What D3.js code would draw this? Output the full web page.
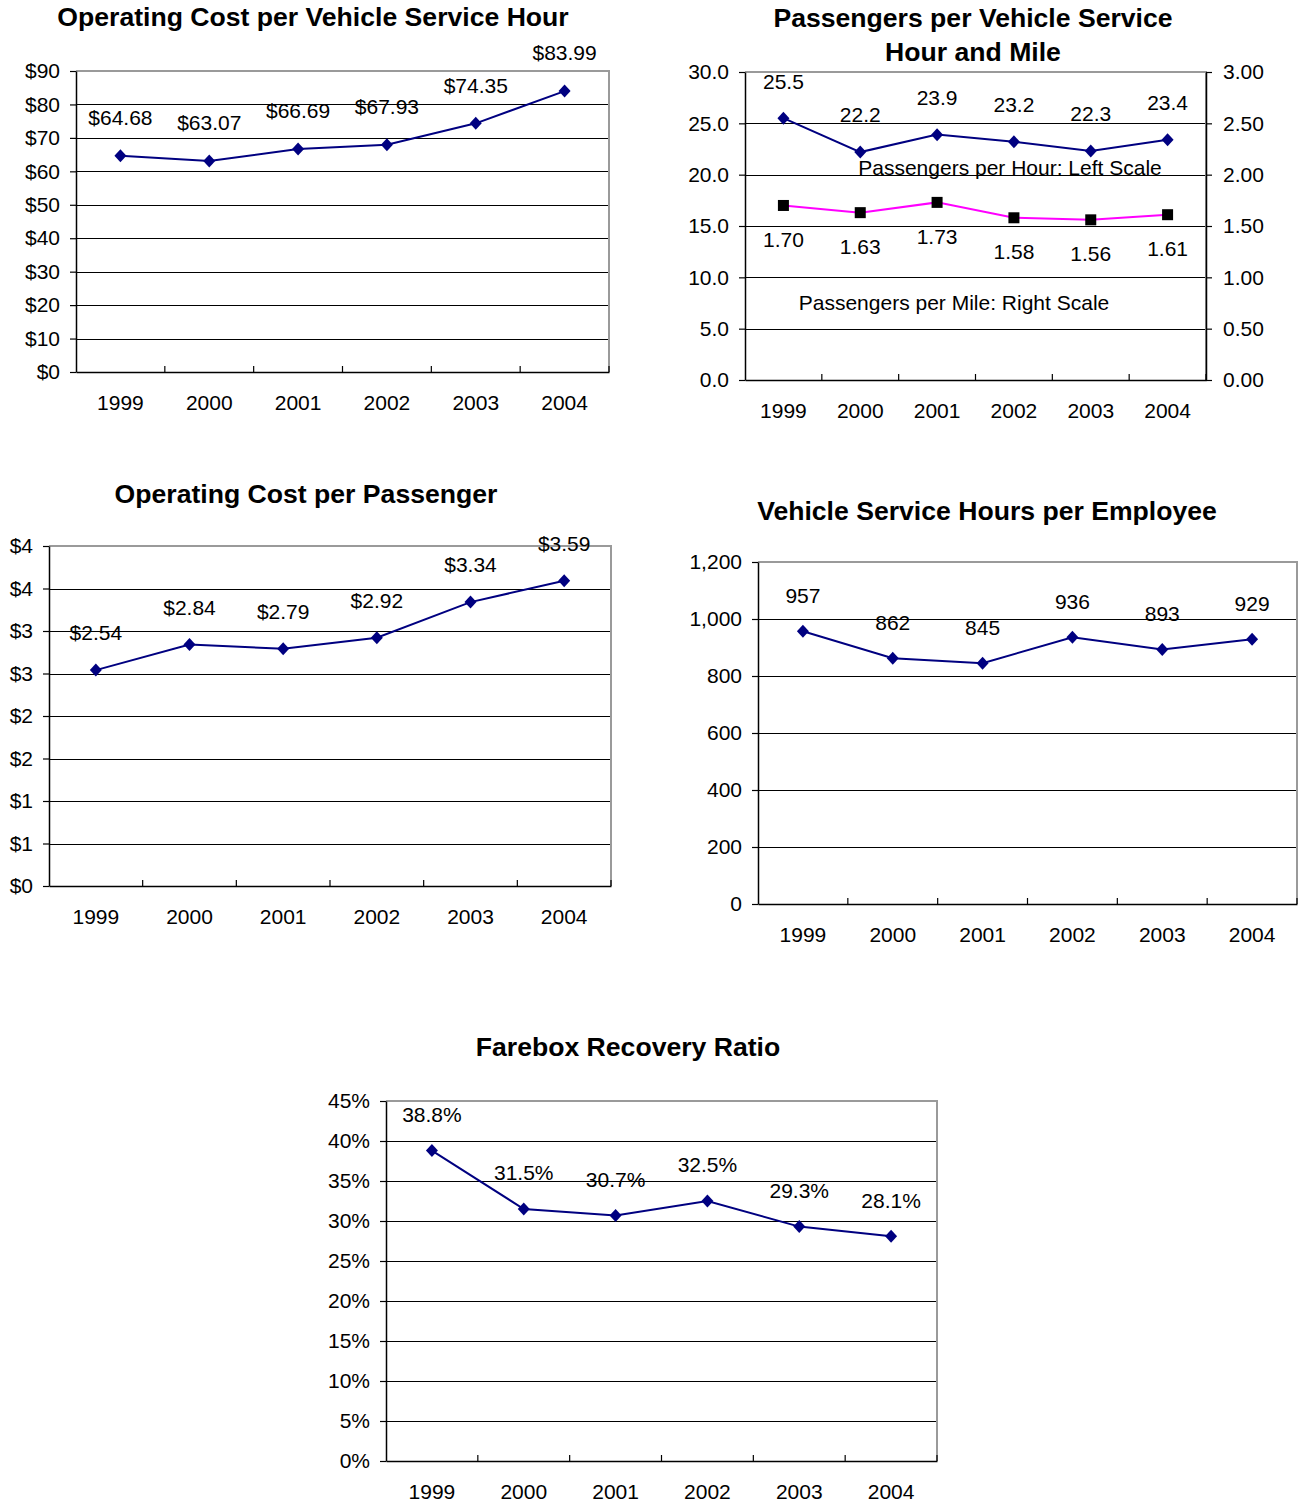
<!DOCTYPE html>
<html>
<head>
<meta charset="utf-8">
<script src="https://cdn.jsdelivr.net/npm/d3@7"></script>
<style>
  html, body { margin: 0; padding: 0; background: #fff; }
  svg { display: block; font-family: "Liberation Sans", Arial, sans-serif; }
  .title { font-weight: bold; font-size: 26.6px; fill: #000; }
  .tick text, .lbl { font-size: 21px; fill: #000; }
</style>
</head>
<body>
<svg id="chart" width="1301" height="1502"></svg>
<script>
// ---- values ----
const years = ["1999", "2000", "2001", "2002", "2003", "2004"];

const costPerHour       = [64.68, 63.07, 66.69, 67.93, 74.35, 83.99];
const passengersPerHour = [25.5, 22.2, 23.9, 23.2, 22.3, 23.4];
const passengersPerMile = [1.70, 1.63, 1.73, 1.58, 1.56, 1.61];
const costPerPassenger  = [2.54, 2.84, 2.79, 2.92, 3.34, 3.59];
const hoursPerEmployee  = [957, 862, 845, 936, 893, 929];
const fareboxRatio      = [38.8, 31.5, 30.7, 32.5, 29.3, 28.1];

const costHourTicks = [0, 10, 20, 30, 40, 50, 60, 70, 80, 90];
const paxHourTicks  = [0, 5, 10, 15, 20, 25, 30];
const paxMileTicks  = [0, 0.5, 1, 1.5, 2, 2.5, 3];
const costPaxTicks  = [0, 0.5, 1, 1.5, 2, 2.5, 3, 3.5, 4];
const hoursTicks    = [0, 200, 400, 600, 800, 1000, 1200];
const fareboxTicks  = [0, 5, 10, 15, 20, 25, 30, 35, 40, 45];

const NAVY = "#000080";
const MAGENTA = "#ff00ff";
const BORDER = "#9a9a9a";

const svg = d3.select("#chart");

// diamond marker shape
function diamond(cx, cy) {
  return `M${cx},${cy - 6.5}L${cx + 6},${cy}L${cx},${cy + 6.5}L${cx - 6},${cy}Z`;
}

function title(lines, cx, cy) {
  lines.forEach((t, i) => {
    svg.append("text").attr("class", "title")
      .attr("x", cx).attr("y", cy + i * 34)
      .attr("dy", "0.35em").attr("text-anchor", "middle")
      .text(t);
  });
}

// One line panel: plot box, value gridlines, category axis and series
function panel(cfg) {
  const g = svg.append("g");
  const x = d3.scaleBand().domain(years).range([cfg.left, cfg.right]).padding(0);
  const y = d3.scaleLinear().domain(cfg.domain).range([cfg.bottom, cfg.top]);
  const cx = d => x(d) + x.bandwidth() / 2;

  // gridlines (top edge is the grey plot border)
  g.selectAll("line.grid")
    .data(cfg.ticks.filter(t => t !== cfg.domain[1] && t !== cfg.domain[0]))
    .join("line")
    .attr("x1", cfg.left).attr("x2", cfg.right)
    .attr("y1", d => Math.round(y(d)) + 0.5).attr("y2", d => Math.round(y(d)) + 0.5)
    .attr("stroke", "#000").attr("stroke-width", 1);

  // plot border: top and right
  g.append("path")
    .attr("d", `M${cfg.left},${cfg.top}H${cfg.right}V${cfg.bottom}`)
    .attr("fill", "none").attr("stroke", BORDER).attr("stroke-width", 2);

  // left value axis
  const ya = g.append("g").attr("transform", `translate(${cfg.left},0)`)
    .call(d3.axisLeft(y).tickValues(cfg.ticks).tickFormat(cfg.fmt)
      .tickSize(6).tickSizeOuter(0).tickPadding(10));
  ya.select(".domain").attr("stroke", "#000").attr("stroke-width", 1.5);
  ya.selectAll(".tick line").attr("stroke", "#000").attr("stroke-width", 1.2);
  ya.selectAll(".tick text").attr("font-size", 21).attr("font-family", null);

  // optional right value axis
  let y2 = null;
  if (cfg.right2) {
    y2 = d3.scaleLinear().domain(cfg.right2.domain).range([cfg.bottom, cfg.top]);
    const ra = g.append("g").attr("transform", `translate(${cfg.right},0)`)
      .call(d3.axisRight(y2).tickValues(cfg.right2.ticks).tickFormat(cfg.right2.fmt)
        .tickSize(6).tickSizeOuter(0).tickPadding(11));
    ra.select(".domain").attr("stroke", "#000").attr("stroke-width", 1.5);
    ra.selectAll(".tick line").attr("stroke", "#000").attr("stroke-width", 1.2);
    ra.selectAll(".tick text").attr("font-size", 21).attr("font-family", null);
  }

  // category axis
  const xa = g.append("g").attr("transform", `translate(0,${cfg.bottom})`)
    .call(d3.axisBottom(x).tickSize(0).tickPadding(23).tickSizeOuter(0));
  xa.select(".domain").attr("stroke", "#000").attr("stroke-width", 1.5);
  xa.selectAll(".tick text").attr("font-size", 21).attr("font-family", null);

  // category separators, pointing into the plot
  const seps = years.slice(1).map(d => x(d)).concat([cfg.right]);
  g.selectAll("line.sep").data(seps).join("line")
    .attr("x1", d => d).attr("x2", d => d)
    .attr("y1", cfg.bottom).attr("y2", cfg.bottom - 6)
    .attr("stroke", "#000").attr("stroke-width", 1.2);

  // series
  cfg.series.forEach(s => {
    const sy = s.axis === 2 ? y2 : y;
    const pts = years.map((yr, i) => [cx(yr), sy(s.values[i])]);
    g.append("path")
      .attr("d", d3.line()(pts))
      .attr("fill", "none").attr("stroke", s.color).attr("stroke-width", 2);
    if (s.marker === "square") {
      g.selectAll(null).data(pts).join("rect")
        .attr("x", d => d[0] - 5.5).attr("y", d => d[1] - 5.5)
        .attr("width", 11).attr("height", 11).attr("fill", "#000");
    } else {
      g.selectAll(null).data(pts).join("path")
        .attr("d", d => diamond(d[0], d[1])).attr("fill", NAVY);
    }
    g.selectAll(null).data(pts).join("text")
      .attr("class", "lbl")
      .attr("x", d => d[0]).attr("y", d => d[1] + s.labelOffset)
      .attr("dy", "0.35em").attr("text-anchor", "middle")
      .text((d, i) => s.labelFmt(s.values[i]));
  });
  return { x, y, y2 };
}

const dollars0 = v => "$" + d3.format("d")(v);
const dollars2 = v => "$" + d3.format(".2f")(v);

// Operating Cost per Vehicle Service Hour
title(["Operating Cost per Vehicle Service Hour"], 313, 17);
panel({
  left: 76, right: 609, top: 71, bottom: 372,
  domain: [0, 90], ticks: costHourTicks, fmt: dollars0,
  series: [{ values: costPerHour, color: NAVY, marker: "diamond",
             labelFmt: dollars2, labelOffset: -38 }]
});

// Passengers per Vehicle Service Hour and Mile
title(["Passengers per Vehicle Service", "Hour and Mile"], 973, 18);
panel({
  left: 745, right: 1206, top: 72, bottom: 380,
  domain: [0, 30], ticks: paxHourTicks, fmt: d3.format(".1f"),
  right2: { domain: [0, 3], ticks: paxMileTicks, fmt: d3.format(".2f") },
  series: [
    { values: passengersPerHour, color: NAVY, marker: "diamond",
      labelFmt: d3.format(".1f"), labelOffset: -37 },
    { values: passengersPerMile, color: MAGENTA, marker: "square", axis: 2,
      labelFmt: d3.format(".2f"), labelOffset: 34 }
  ]
});
svg.append("text").attr("class", "lbl").attr("text-anchor", "middle")
  .attr("x", 1010).attr("y", 168).attr("dy", "0.35em")
  .text("Passengers per Hour: Left Scale");
svg.append("text").attr("class", "lbl").attr("text-anchor", "middle")
  .attr("x", 954).attr("y", 303).attr("dy", "0.35em")
  .text("Passengers per Mile: Right Scale");

// Operating Cost per Passenger
title(["Operating Cost per Passenger"], 306, 494);
panel({
  left: 49, right: 611, top: 546, bottom: 886,
  domain: [0, 4], ticks: costPaxTicks, fmt: v => "$" + Math.round(v),
  series: [{ values: costPerPassenger, color: NAVY, marker: "diamond",
             labelFmt: dollars2, labelOffset: -37 }]
});

// Vehicle Service Hours per Employee
title(["Vehicle Service Hours per Employee"], 987, 511);
panel({
  left: 758, right: 1297, top: 562, bottom: 904,
  domain: [0, 1200], ticks: hoursTicks, fmt: d3.format(","),
  series: [{ values: hoursPerEmployee, color: NAVY, marker: "diamond",
             labelFmt: d3.format("d"), labelOffset: -36 }]
});

// Farebox Recovery Ratio
title(["Farebox Recovery Ratio"], 628, 1047);
panel({
  left: 386, right: 937, top: 1101, bottom: 1461,
  domain: [0, 45], ticks: fareboxTicks, fmt: v => v + "%",
  series: [{ values: fareboxRatio, color: NAVY, marker: "diamond",
             labelFmt: v => d3.format(".1f")(v) + "%", labelOffset: -36 }]
});
</script>
</body>
</html>
